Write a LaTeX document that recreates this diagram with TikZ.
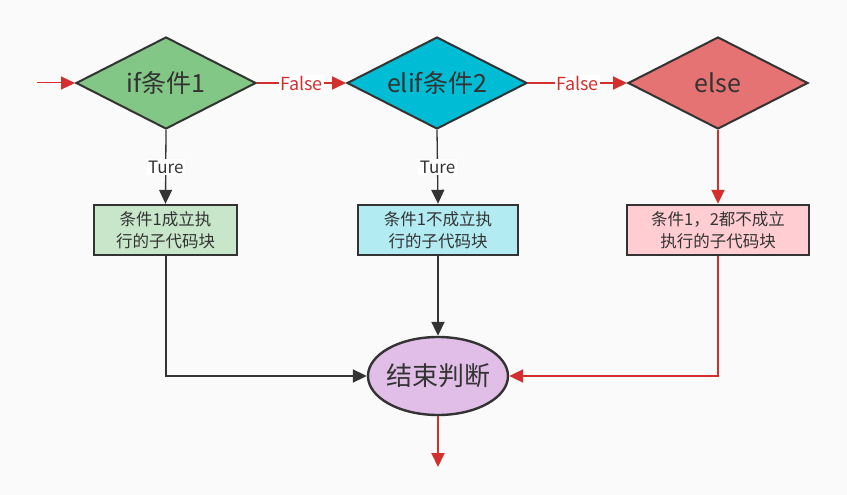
\documentclass[tikz,border=0pt]{standalone}
\usepackage{fontspec}
\setmainfont{Noto Sans CJK SC}
\usetikzlibrary{shapes.geometric,arrows.meta}
\definecolor{bgc}{HTML}{FAFAFA}
\definecolor{ink}{HTML}{333333}
\definecolor{redc}{HTML}{D32F2F}
\definecolor{dgreen}{HTML}{82C785}
\definecolor{dcyan}{HTML}{00BCD4}
\definecolor{dred}{HTML}{E57373}
\definecolor{bgreen}{HTML}{C8E6C9}
\definecolor{bcyan}{HTML}{B2EBF2}
\definecolor{bred}{HTML}{FFCDD2}
\definecolor{epurple}{HTML}{E1BEE7}
\tikzset{
  decision/.style={diamond, draw=ink, line width=2pt, aspect=1.95, minimum width=180pt, minimum height=92pt, inner sep=0pt, text=ink, font=\fontsize{25}{27}\selectfont},
  codebox/.style={rectangle, draw=ink, line width=2.4pt, minimum height=50pt, inner sep=1pt, text=ink, align=center, font=\fontsize{16.5}{22}\selectfont},
  endnode/.style={ellipse, draw=ink, line width=2.4pt, fill=epurple, minimum width=140pt, minimum height=78pt, inner sep=0pt, text=ink, font=\fontsize{26}{28}\selectfont},
  tip/.style={-{Triangle[length=14pt,width=13pt]}},
  blackline/.style={tip, draw=ink, line width=2pt},
  thinline/.style={tip, draw=ink, line width=1.3pt},
  redline/.style={tip, draw=redc, line width=2pt},
  flabel/.style={fill=white, inner sep=1pt, text=redc, font=\fontsize{18}{20}\selectfont},
  tlabel/.style={fill=white, inner sep=1.5pt, text=ink, font=\fontsize{17}{19}\selectfont},
}
\begin{document}
\begin{tikzpicture}[x=1pt,y=-1pt]
\path[use as bounding box, fill=bgc] (0,0) rectangle (847,495);
\node[decision, fill=dgreen] (d1) at (166,83) {if条件1};
\node[decision, fill=dcyan] (d2) at (437,83) {elif条件2};
\node[decision, fill=dred] (d3) at (718,83) {else};
\node[codebox, fill=bgreen, minimum width=143pt] (b1) at (165.5,230) {条件1成立执\\行的子代码块};
\node[codebox, fill=bcyan, minimum width=160pt] (b2) at (438,230) {条件1不成立执\\行的子代码块};
\node[codebox, fill=bred, minimum width=182pt] (b3) at (718,230) {条件1，2都不成立\\执行的子代码块};
\node[endnode] (e) at (438,376) {\makebox[0pt]{结束判断}};
\coordinate (start) at (37,83);
\coordinate (out) at (438,467);
\coordinate (c1) at (b1.south |- e.west);
\coordinate (c3) at (b3.south |- e.east);
\draw[tip, draw=redc, line width=1pt] (start) -- (d1.west);
\draw[redline] (d1.east) -- node[flabel]{False} (d2.west);
\draw[redline] (d2.east) -- node[flabel]{False} (d3.west);
\draw[thinline] (d1.south) -- node[tlabel, pos=0.5]{Ture} (b1.north);
\draw[thinline] (d2.south) -- node[tlabel, pos=0.5]{Ture} (b2.north);
\draw[redline] (d3.south) -- (b3.north);
\draw[blackline] (b1.south) -- (c1) -- (e.west);
\draw[blackline] (b2.south) -- (e.north);
\draw[redline] (b3.south) -- (c3) -- (e.east);
\draw[redline] (e.south) -- (out);
\end{tikzpicture}
\end{document}
